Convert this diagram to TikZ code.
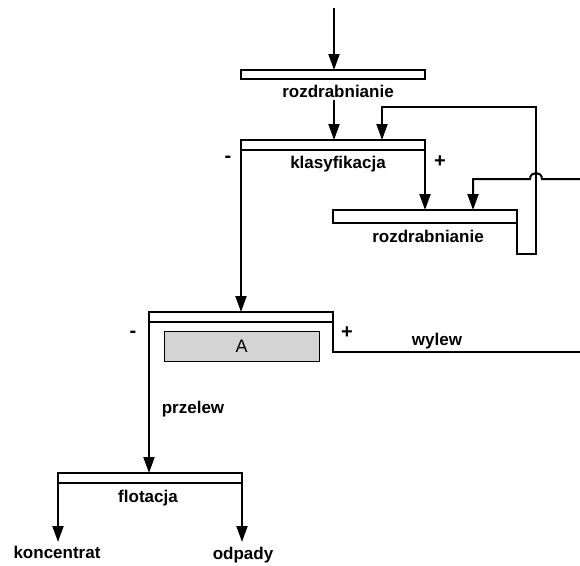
\documentclass[tikz,border=0pt]{standalone}
\usepackage{fontspec}
\setmainfont{Liberation Sans}
\usetikzlibrary{arrows.meta}
\definecolor{boxgray}{RGB}{212,212,212}
\begin{document}
\begin{tikzpicture}[x=1pt,y=-1pt,
  bar/.style={draw,line width=1.4pt,fill=white,inner sep=0pt,outer sep=0pt,anchor=north west,minimum width=184pt},
  flow/.style={line width=2pt},
  arr/.style={flow,-{Triangle[width=11pt,length=16pt]}},
  lbl/.style={font=\bfseries\fontsize{17}{20}\selectfont,anchor=base,inner sep=0pt},
  sign/.style={font=\bfseries\fontsize{20}{22}\selectfont,anchor=base,inner sep=0pt},
  ]
\useasboundingbox (0,0) rectangle (580,565);

% bars
\node[bar,minimum height=9pt]  (r1) at (241,70)  {};
\node[bar,minimum height=10pt] (kl) at (241,140) {};
\node[bar,minimum height=13pt] (r2) at (333,210) {};
\node[bar,minimum height=10pt] (ab) at (149,312) {};
\node[bar,minimum height=10pt] (fl) at (58,473)  {};
\node[draw,line width=1.4pt,fill=boxgray,anchor=north west,inner sep=0pt,
      minimum width=155pt,minimum height=30pt] (A) at (164,331) {};
\node[font=\fontsize{18}{20}\selectfont,anchor=base,inner sep=0pt] (lA) at (241.5,352) {A};

% labels
\node[lbl] (lr1) at (338,97)  {rozdrabnianie};
\node[lbl] (lkl) at (338,168) {klasyfikacja};
\node[lbl] (lr2) at (428,242) {rozdrabnianie};
\node[lbl] (lwy) at (437,345) {wylew};
\node[lbl] (lpr) at (193,413) {przelew};
\node[lbl] (lfl) at (148,502) {flotacja};
\node[lbl] (lko) at (57,558)  {koncentrat};
\node[lbl] (lod) at (243,559) {odpady};
\node[sign] (m1) at (228,162) {-};
\node[sign] (p1) at (440,167) {+};
\node[sign] (m2) at (133,337) {-};
\node[sign] (p2) at (347,338) {+};

% coordinates
\coordinate (in) at (334,8);
\coordinate (r1out) at (334,100);
\coordinate (rec) at (382,107);
\coordinate (feed) at (580,179);
\coordinate (wyl) at (580,352);

% main flow
\draw[arr] (in) -- (in |- r1.north);
\draw[arr] (r1out) -- (r1out |- kl.north);
\draw[arr] (kl.south west) -- (kl.south west |- ab.north);
\draw[arr] (kl.south east) -- (kl.south east |- r2.north);
% recycle loop from rozdrabnianie back to klasyfikacja
\draw[arr] (r2.south east) -- (517,254) -- (536,254) -- (536,107) -- (rec) -- (rec |- kl.north);
% feed from right with hop
\draw[arr] (feed) -- (542,179) .. controls (542,171) and (530,171) .. (530,179) -- (473,179) -- (473,210);
% A outputs
\draw[arr] (ab.south west) -- (ab.south west |- fl.north);
\draw[flow] (ab.south east) -- (333,352) -- (wyl);
% flotacja outputs
\draw[arr] (fl.south west) -- (58,542);
\draw[arr] (fl.south east) -- (242,542);
\end{tikzpicture}
\end{document}
